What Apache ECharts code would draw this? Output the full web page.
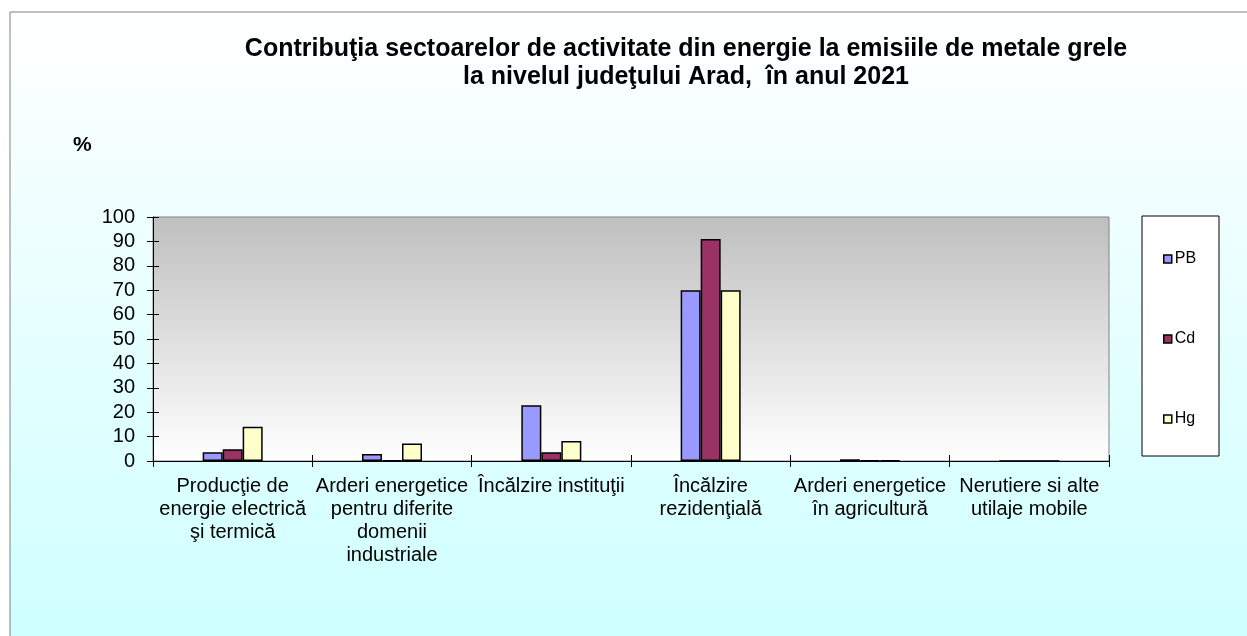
<!DOCTYPE html>
<html>
<head>
<meta charset="utf-8">
<script src="https://cdn.jsdelivr.net/npm/echarts@6/dist/echarts.min.js"></script>
<style>
  html, body { margin: 0; padding: 0; background: #fff; }
  #chart { width: 1247px; height: 636px; }
</style>
</head>
<body>
<div id="chart"></div>
<script>
// date (%)
const categories = [
  'Producţie de\nenergie electrică\nşi termică',
  'Arderi energetice\npentru diferite\ndomenii\nindustriale',
  'Încălzire instituţii',
  'Încălzire\nrezidenţială',
  'Arderi energetice\nîn agricultură',
  'Nerutiere si alte\nutilaje mobile'
];
const seriesNames = ['PB', 'Cd', 'Hg'];
const pbValues = [3.6, 2.9, 22.8, 70.0, 0.7, 0];
const cdValues = [4.8, 0.3, 3.6, 91.0, 0.3, 0];
const hgValues = [14.0, 7.2, 8.2, 70.0, 0.3, 0];
const yTicks = [0, 10, 20, 30, 40, 50, 60, 70, 80, 90, 100];

const FONT = 'Arial, "Liberation Sans", sans-serif';
const chart = echarts.init(document.getElementById('chart'));

const colors = ['#9999ff', '#993366', '#ffffcc'];
const allValues = [pbValues, cdValues, hgValues];

const yMin = yTicks[0], yMax = yTicks[yTicks.length - 1];
const yStep = yTicks[1] - yTicks[0];

const grid = { left: 153, right: 138, top: 217, bottom: 175 };

const option = {
  animation: false,
  textStyle: { fontFamily: FONT },
  graphic: [
    {
      type: 'rect', z: -10, silent: true,
      shape: { x: 10, y: 12, width: 1260, height: 660 },
      style: {
        fill: new echarts.graphic.LinearGradient(0, 0, 0, 1, [
          { offset: 0, color: '#ffffff' },
          { offset: 1, color: '#ccffff' }
        ]),
        stroke: '#808080', lineWidth: 1
      }
    },
    {
      type: 'rect', z: 1, silent: true,
      shape: { x: 1142, y: 216, width: 77, height: 240 },
      style: { fill: '#ffffff', stroke: '#000', lineWidth: 1 }
    },
    {
      type: 'text', left: 73, top: 135, silent: true,
      style: { text: '%', font: 'bold 21px ' + FONT, fill: '#000' }
    }
  ],
  title: {
    text: 'Contribuţia sectoarelor de activitate din energie la emisiile de metale grele\nla nivelul judeţului Arad,  în anul 2021',
    left: 681, top: 30, textAlign: 'center',
    textStyle: { fontSize: 25, fontWeight: 'bold', color: '#000', lineHeight: 28, fontFamily: FONT }
  },
  legend: {
    orient: 'vertical',
    left: 1158, top: 246,
    itemGap: 64,
    itemWidth: 8, itemHeight: 8,
    icon: 'rect',
    itemStyle: { borderColor: '#000', borderWidth: 1.5 },
    textStyle: { fontSize: 16, color: '#000', padding: [0, 0, 0, -2], fontFamily: FONT },
    data: seriesNames,
    z: 5
  },
  grid: Object.assign({
    show: true,
    backgroundColor: new echarts.graphic.LinearGradient(0, 0, 0, 1, [
      { offset: 0, color: '#bfbfbf' },
      { offset: 1, color: '#ffffff' }
    ]),
    borderColor: '#808080', borderWidth: 1
  }, grid),
  xAxis: [
    {
      type: 'category',
      data: categories,
      axisLine: { lineStyle: { color: '#000', width: 1 } },
      axisTick: { show: true, length: 6, lineStyle: { color: '#000' } },
      axisLabel: { interval: 0, color: '#000', fontSize: 20, lineHeight: 23, margin: 14, fontFamily: FONT },
      splitLine: { show: false }
    },
    {
      type: 'category',
      data: categories,
      position: 'bottom',
      axisLine: { show: false },
      axisTick: { show: true, inside: true, length: 6, lineStyle: { color: '#000' } },
      axisLabel: { show: false },
      splitLine: { show: false }
    }
  ],
  yAxis: [
    {
      type: 'value',
      min: yMin, max: yMax, interval: yStep,
      axisLine: { show: true, lineStyle: { color: '#000', width: 1 } },
      axisTick: { show: true, length: 6, lineStyle: { color: '#000' } },
      axisLabel: { color: '#000', fontSize: 20, margin: 18, fontFamily: FONT },
      splitLine: { show: false }
    },
    {
      type: 'value',
      position: 'left',
      min: yMin, max: yMax, interval: yStep,
      axisLine: { show: false },
      axisTick: { show: true, inside: true, length: 6, lineStyle: { color: '#000' } },
      axisLabel: { show: false },
      splitLine: { show: false }
    }
  ],
  series: seriesNames.map((name, i) => ({
    name: name,
    type: 'bar',
    data: allValues[i],
    barWidth: 20,
    barGap: '0%',
    itemStyle: { color: colors[i], borderColor: '#000', borderWidth: 1.5 },
    z: 3
  }))
};

chart.setOption(option);
</script>
</body>
</html>
